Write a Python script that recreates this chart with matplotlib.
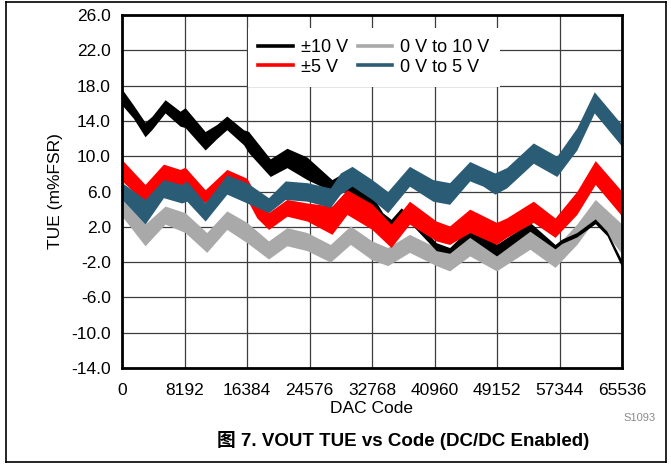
import matplotlib.pyplot as plt
from matplotlib.lines import Line2D

plt.rcParams['font.family'] = ['Liberation Sans', 'Noto Sans CJK SC', 'DejaVu Sans']

# band envelopes (code, upper, lower) in m%FSR
black_code = [0, 1490, 3020, 3900, 5650, 7620, 8270, 10900, 12430, 13740, 15930, 16590,
              19430, 21620, 24250, 27520, 28620, 30380, 32768, 34170, 35270, 36590, 38120,
              41190, 42940, 45580, 49090, 53470, 56760, 57640, 59610, 62030, 63560, 65536]
black_hi = [17.6, 15.8, 13.85, 14.5, 16.4, 15.1, 15.5, 12.8, 13.6, 14.55, 13.0, 12.8,
            9.7, 10.9, 9.9, 7.35, 7.9, 6.8, 5.6, 3.6, 2.85, 4.15, 3.0,
            0.2, -0.35, 1.9, 0.0, 2.5, 0.0, 0.6, 1.35, 2.9, 1.5, -1.85]
black_lo = [15.8, 14.3, 12.2, 13.0, 14.9, 13.4, 13.25, 10.7, 12.0, 13.0, 11.3, 10.4,
            7.7, 8.7, 7.35, 6.0, 6.6, 4.9, 4.0, 2.65, 2.1, 3.2, 2.1,
            -0.7, -1.0, 0.8, -1.3, 1.5, -0.5, 0.1, 0.85, 2.35, 1.0, -2.6]

red_code = [0, 3020, 5430, 7620, 8270, 10900, 13740, 16370, 17680, 19210, 21620, 24250,
            27520, 29490, 32768, 35270, 37680, 41190, 42940, 45580, 49090, 50400, 53910,
            56760, 59610, 62030, 65536]
red_hi = [9.6, 6.8, 9.1, 8.5, 8.75, 6.2, 8.5, 7.5, 5.5, 3.6, 5.1, 4.7,
          4.35, 6.2, 4.6, 2.3, 4.9, 2.65, 2.1, 4.0, 2.5, 3.0, 4.9,
          3.0, 6.0, 9.5, 6.0]
red_lo = [7.2, 4.7, 7.0, 6.4, 6.8, 4.7, 6.8, 5.1, 3.0, 1.7, 3.2, 2.65,
          1.15, 3.4, 1.7, -0.35, 2.3, 0.4, 0.0, 1.35, 0.0, 0.8, 2.5,
          0.8, 3.4, 6.8, 3.2]

gray_code = [0, 3020, 5650, 8270, 11110, 13740, 16370, 19210, 21620, 24250, 27310, 29930,
             32768, 34830, 37680, 41190, 42940, 45580, 49090, 53470, 56760, 59610, 62030, 65536]
gray_hi = [5.1, 2.3, 4.35, 3.6, 1.35, 3.8, 2.5, 0.4, 1.9, 1.35, 0.0, 2.1,
           0.4, -0.35, 1.15, -0.35, -0.9, 1.0, -0.7, 1.7, -0.35, 2.3, 5.1, 2.3]
gray_lo = [3.2, -0.15, 2.3, 1.35, -0.9, 1.7, 0.2, -1.65, -0.15, -0.7, -2.0, 0.0,
           -1.75, -2.4, -0.9, -2.4, -3.0, -1.3, -3.0, -0.55, -2.6, 0.0, 2.85, -1.1]

blue_code = [0, 3020, 5430, 7830, 8490, 10900, 13740, 16370, 19210, 21400, 24250, 27310,
             28620, 30150, 32768, 34830, 37680, 40750, 42940, 45580, 47330, 48870, 50400,
             53910, 56990, 59610, 61900, 65536]
blue_hi = [7.0, 5.1, 7.35, 6.8, 7.2, 4.7, 7.9, 7.0, 5.3, 7.2, 7.0, 6.4,
           8.1, 8.85, 7.35, 6.0, 8.85, 7.35, 7.0, 9.4, 8.7, 8.1, 8.7,
           11.5, 10.0, 13.2, 17.3, 13.55]
blue_lo = [5.1, 2.3, 5.3, 4.7, 4.9, 2.65, 5.7, 4.7, 3.6, 5.1, 4.9, 4.2,
           5.7, 6.6, 5.1, 3.6, 6.6, 4.9, 4.55, 7.2, 6.6, 5.7, 6.4,
           9.2, 7.7, 10.7, 14.9, 11.1]

labels = ['±10 V', '±5 V', '0 V to 10 V', '0 V to 5 V']
colors = ['#000000', '#ff0000', '#a9a9a9', '#2b5c76']

x_ticks = [0, 8192, 16384, 24576, 32768, 40960, 49152, 57344, 65536]
y_ticks = [-14, -10, -6, -2, 2, 6, 10, 14, 18, 22, 26]

fig = plt.figure(figsize=(6.71, 4.66), dpi=100)
ax = fig.add_axes([122 / 671, 98 / 466, 500 / 671, 353 / 466])

# gray first, then black, red, blue on top
ax.fill_between(gray_code, gray_lo, gray_hi, color=colors[2], lw=0, zorder=2)
ax.fill_between(black_code, black_lo, black_hi, color=colors[0], lw=0, zorder=3)
ax.fill_between(red_code, red_lo, red_hi, color=colors[1], lw=0, zorder=4)
ax.fill_between(blue_code, blue_lo, blue_hi, color=colors[3], lw=0, zorder=5)

ax.set_xlim(0, 65536)
ax.set_ylim(-14, 26)
ax.set_xticks(x_ticks)
ax.set_xticklabels([str(v) for v in x_ticks])
ax.set_yticks(y_ticks)
ax.set_yticklabels(['%.1f' % v for v in y_ticks])
ax.tick_params(length=0, labelsize=12.5)
ax.tick_params(axis='x', pad=11)
ax.tick_params(axis='y', pad=8)
ax.grid(True, color='#3c3c3c', lw=0.9)
ax.set_axisbelow(True)
for s in ax.spines.values():
    s.set_linewidth(2.0)
    s.set_zorder(10)

ax.set_xlabel('DAC Code', fontsize=12.5, labelpad=2)
ax.set_ylabel('TUE (m%FSR)', fontsize=12.5, labelpad=6)

handles = [Line2D([], [], color=c, lw=2.6) for c in colors]
leg = ax.legend(handles, labels, ncol=2, loc='center', bbox_to_anchor=(0.504, 0.88),
                fontsize=13, frameon=True, fancybox=False, framealpha=1,
                handlelength=1.9, handletextpad=0.45, columnspacing=0.55,
                labelspacing=0.15, borderpad=0.6)
leg.get_frame().set_linewidth(0)
leg.set_zorder(20)

fig.text(640 / 671, 1 - 418 / 466, 'S1093', fontsize=8, color='#8a8a8a',
         ha='center', va='center')
fig.text(403 / 671, 1 - 441 / 466, '图 7. VOUT TUE vs Code (DC/DC Enabled)',
         fontsize=13.5, fontweight='bold', ha='center', va='center')

# outer frame of the figure
fig.add_artist(Line2D([6 / 671, 6 / 671], [1 - 2 / 466, 1 - 462 / 466], color='black', lw=1.2))
fig.add_artist(Line2D([666 / 671, 666 / 671], [1 - 2 / 466, 1 - 462 / 466], color='black', lw=1.2))
fig.add_artist(Line2D([6 / 671, 666 / 671], [1 - 2 / 466, 1 - 2 / 466], color='black', lw=1.2))
fig.add_artist(Line2D([6 / 671, 666 / 671], [1 - 462 / 466, 1 - 462 / 466], color='black', lw=1.2))

plt.savefig('out.png', dpi=100)
